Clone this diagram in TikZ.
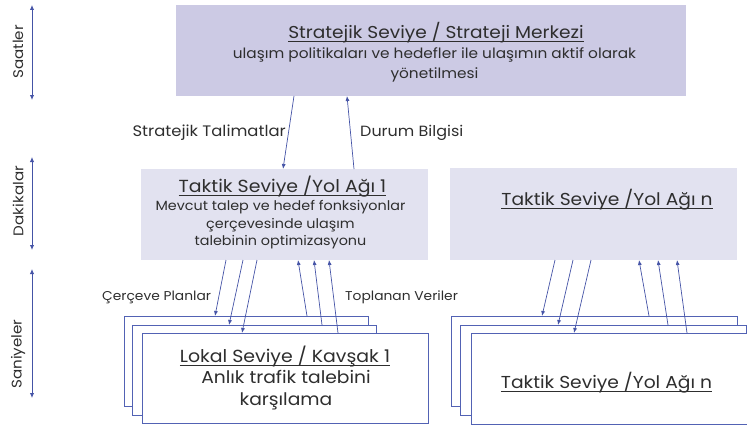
\documentclass[tikz,border=0pt]{standalone}
\usepackage{fontspec}
\setmainfont[FakeStretch=1.08]{Poppins}
\usetikzlibrary{arrows.meta}
\definecolor{topfill}{HTML}{CCCAE4}
\definecolor{tacfill}{HTML}{E2E2F0}
\definecolor{arr}{HTML}{4453A6}
\definecolor{framec}{HTML}{5262B4}
\definecolor{txt}{HTML}{2E2E2E}
\newcommand{\fs}[2]{\fontsize{#1}{#2}\selectfont}
\newsavebox{\ulbox}
\newcommand{\myul}[1]{\sbox{\ulbox}{#1}\rlap{\rule[-3pt]{\wd\ulbox}{0.75pt}}\usebox{\ulbox}}
\begin{document}
\begin{tikzpicture}[x=1pt,y=-1pt,
  box/.style={inner sep=0pt, anchor=north west, outer sep=0pt},
  topbox/.style={box, fill=topfill},
  tacbox/.style={box, fill=tacfill},
  frm/.style={box, draw=framec, line width=0.8pt, fill=white},
  txtnode/.style={text=txt, align=center, inner sep=0pt},
  conn/.style={draw=arr, line width=0.7pt, -{Latex[length=5pt,width=4pt]}},
  timearr/.style={draw=arr, line width=0.9pt, {Latex[length=5pt,width=4.5pt]}-{Latex[length=5pt,width=4.5pt]}},
  lbl/.style={text=txt, inner sep=0pt},
  tlbl/.style={text=txt, inner sep=0pt, rotate=90, font=\fs{14}{14}}
]
\useasboundingbox (0,0) rectangle (747,428);

% strategic box
\node[topbox, minimum width=510pt, minimum height=91pt] (top) at (176,5) {};
\node[txtnode, font=\fs{17.2}{17.2}] (toptitle) at (436,33)
  {\myul{Stratejik Seviye / Strateji Merkezi}};
\node[txtnode, font=\fs{14.2}{19.5}] (topbody) at (434.5,65)
  {ulaşım politikaları ve hedefler ile ulaşımın aktif olarak\\ yönetilmesi};

% tactical boxes
\node[tacbox, minimum width=287pt, minimum height=91pt] (tac1) at (141,169) {};
\node[txtnode, font=\fs{17.5}{17.5}] (tac1title) at (282.5,187)
  {\myul{Taktik Seviye /Yol Ağı 1}};
\node[txtnode, font=\fs{13.3}{17.5}] (tac1body) at (280.5,225)
  {Mevcut talep ve hedef fonksiyonlar\\ çerçevesinde ulaşım\\ talebinin optimizasyonu};
\node[tacbox, minimum width=287pt, minimum height=92pt] (tacn) at (450,168) {};
\node[txtnode, font=\fs{17.3}{17.3}] (tacntitle) at (607,200) {\myul{Taktik Seviye /Yol Ağı n}};

% local frames, left group
\node[frm, minimum width=244pt, minimum height=90pt] (l1) at (124,316) {};
\node[frm, minimum width=244pt, minimum height=90pt] (l2) at (132,325) {};
\node[frm, minimum width=286pt, minimum height=90pt] (l3) at (142,333) {};
\node[txtnode, font=\fs{17.5}{17.5}] (l3title) at (285,357)
  {\myul{Lokal Seviye / Kavşak 1}};
\node[txtnode, font=\fs{17.3}{21.5}] (l3body) at (286,390)
  {Anlık trafik talebini\\ karşılama};

% right group
\node[frm, minimum width=286pt, minimum height=90pt] (r1) at (451,316) {};
\node[frm, minimum width=286pt, minimum height=90pt] (r2) at (460,325) {};
\begin{scope}
\clip (0,0) rectangle (747,428);
\node[frm, minimum width=290pt, minimum height=91pt] (r3) at (471,333) {};
\end{scope}
\node[txtnode, font=\fs{17.3}{17.3}] (r3title) at (606.5,383) {\myul{Taktik Seviye /Yol Ağı n}};

% strategic <-> tactical
\draw[conn] ([xshift=118pt]top.south west) -- ([xshift=142pt]tac1.north west);
\draw[conn] ([xshift=213pt]tac1.north west) -- ([xshift=171pt]top.south west);
\node[lbl, anchor=east, font=\fs{15.2}{15.2}] (lblst) at (286,133) {Stratejik Talimatlar};
\node[lbl, anchor=west, font=\fs{14.8}{14.8}] (lbldb) at (360,133) {Durum Bilgisi};

% tactical 1 <-> local
\draw[conn] ([xshift=85pt]tac1.south west) -- ([xshift=91pt]l1.north west);
\draw[conn] ([xshift=102pt]tac1.south west) -- ([xshift=97pt]l2.north west);
\draw[conn] ([xshift=116pt]tac1.south west) -- ([xshift=100pt]l3.north west);
\draw[conn] ([xshift=183pt]l1.north west) -- ([xshift=157pt]tac1.south west);
\draw[conn] ([xshift=190pt]l2.north west) -- ([xshift=173pt]tac1.south west);
\draw[conn] ([xshift=196pt]l3.north west) -- ([xshift=188pt]tac1.south west);
\node[lbl, anchor=west, font=\fs{12.8}{12.8}] (lblcp) at (102,297) {Çerçeve Planlar};
\node[lbl, anchor=west, font=\fs{12.8}{12.8}] (lbltv) at (345,297) {Toplanan Veriler};

% tactical n <-> right group
\draw[conn] ([xshift=105pt]tacn.south west) -- ([xshift=91pt]r1.north west);
\draw[conn] ([xshift=123pt]tacn.south west) -- ([xshift=98pt]r2.north west);
\draw[conn] ([xshift=141pt]tacn.south west) -- ([xshift=103pt]r3.north west);
\draw[conn] ([xshift=198pt]r1.north west) -- ([xshift=189pt]tacn.south west);
\draw[conn] ([xshift=208pt]r2.north west) -- ([xshift=208pt]tacn.south west);
\draw[conn] ([xshift=216pt]r3.north west) -- ([xshift=227pt]tacn.south west);

% time scale
\coordinate (s1) at (32,5);   \coordinate (s2) at (32,100);
\coordinate (d1) at (32,157); \coordinate (d2) at (32,250);
\coordinate (n1) at (32,269); \coordinate (n2) at (32,398);
\draw[timearr] (s1) -- (s2);
\draw[timearr] (d1) -- (d2);
\draw[timearr] (n1) -- (n2);
\node[tlbl] (tsaat) at (18,52) {Saatler};
\node[tlbl] (tdak) at (18,201) {Dakikalar};
\node[tlbl] (tsan) at (18,354) {Saniyeler};
\end{tikzpicture}
\end{document}
